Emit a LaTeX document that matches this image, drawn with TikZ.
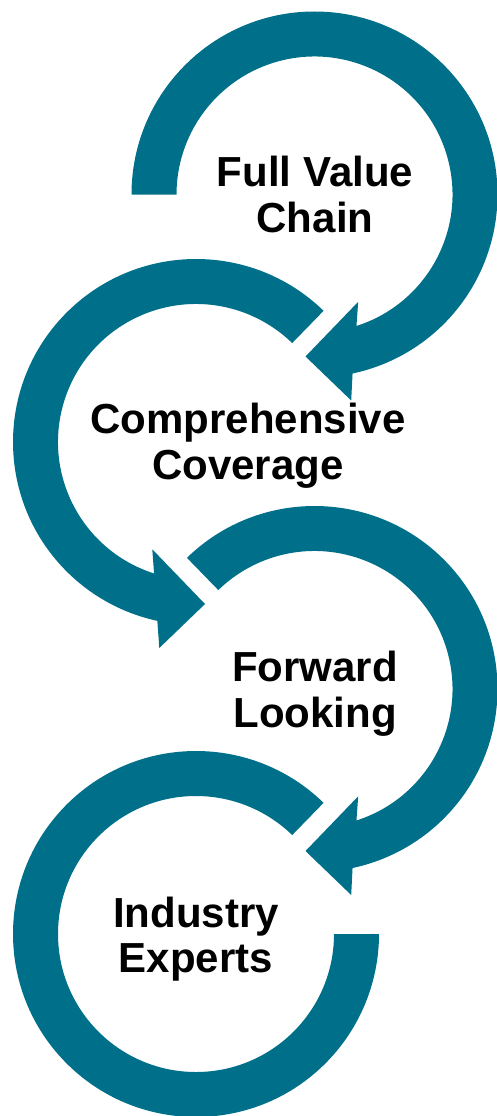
\documentclass[tikz,border=0pt]{standalone}
\usepackage{fontspec}
\setmainfont{Liberation Sans}
\usetikzlibrary{calc}
\definecolor{teal1}{RGB}{0,112,138}
\begin{document}
\begin{tikzpicture}[x=1pt,y=1pt,
  band/.style={fill=teal1, draw=none},
  lbl/.style={font=\fontsize{42}{46}\selectfont\bfseries, anchor=base, inner sep=0pt, text=black}]
\useasboundingbox (0,0) rectangle (497,-1116);
\coordinate (c1) at (314.5,-194.5);
\coordinate (c2) at (196,-442);
\coordinate (c3) at (314.5,-689);
\coordinate (c4) at (196,-934);

% ring 1: clockwise, arrow at bottom
\fill[band] ($(c1)+(180:183pt)$) arc[start angle=180,end angle=-78,radius=183pt]
  -- ($(c1)+(36.7pt,-206pt)$) -- ($(c1)+(-9pt,-162pt)$) -- ($(c1)+(43.7pt,-107.3pt)$)
  -- ($(c1)+(-72.3:138pt)$) arc[start angle=-72.3,end angle=180,radius=138pt] -- cycle;

% ring 2: counter-clockwise, arrow at bottom
\fill[band] ($(c2)+(45.8:183pt)$) arc[start angle=45.8,end angle=257.8,radius=183pt]
  -- ($(c2)+(-36.7pt,-206pt)$) -- ($(c2)+(9pt,-162pt)$) -- ($(c2)+(-43.7pt,-107.3pt)$)
  -- ($(c2)+(252.3:138pt)$) arc[start angle=252.3,end angle=45.8,radius=138pt] -- cycle;

% ring 3: clockwise, arrow at bottom
\fill[band] ($(c3)+(134.2:183pt)$) arc[start angle=134.2,end angle=-78,radius=183pt]
  -- ($(c3)+(36.7pt,-206pt)$) -- ($(c3)+(-9pt,-162pt)$) -- ($(c3)+(43.7pt,-107.3pt)$)
  -- ($(c3)+(-72.3:138pt)$) arc[start angle=-72.3,end angle=134.2,radius=138pt] -- cycle;

% ring 4: counter-clockwise, flat end at right
\fill[band] ($(c4)+(45.8:183pt)$) arc[start angle=45.8,end angle=360,radius=183pt]
  -- ($(c4)+(0:138pt)$) arc[start angle=360,end angle=45.8,radius=138pt] -- cycle;

\node[lbl] (t1a) at (315,-186) {Full Value};
\node[lbl] (t1b) at (315,-232) {Chain};
\node[lbl] (t2a) at (248,-433) {Comprehensive};
\node[lbl] (t2b) at (248,-479) {Coverage};
\node[lbl] (t3a) at (315,-681) {Forward};
\node[lbl] (t3b) at (315,-727) {Looking};
\node[lbl] (t4a) at (196,-927) {Industry};
\node[lbl] (t4b) at (196,-972) {Experts};
\end{tikzpicture}
\end{document}
